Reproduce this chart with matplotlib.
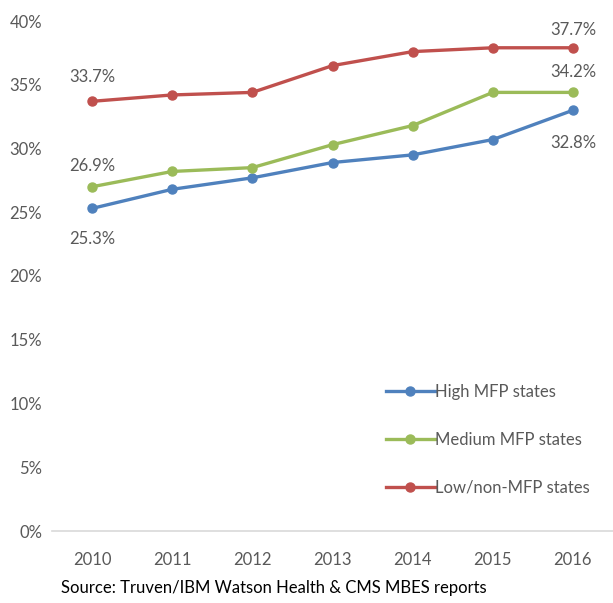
import numpy as np
import matplotlib.pyplot as plt

plt.rcParams['font.family'] = ['Lato', 'DejaVu Sans']

years = ['2010', '2011', '2012', '2013', '2014', '2015', '2016']
high = [25.3, 26.8, 27.7, 28.9, 29.5, 30.7, 33.0]
medium = [27.0, 28.2, 28.5, 30.3, 31.8, 34.4, 34.4]
low = [33.7, 34.2, 34.4, 36.5, 37.6, 37.9, 37.9]

high_labels = ['25.3%', '32.8%']
medium_labels = ['26.9%', '34.2%']
low_labels = ['33.7%', '37.7%']

grey = '#595959'
x = np.arange(len(years))

fig = plt.figure(figsize=(6.13, 6.03), dpi=100)
ax = fig.add_axes([52/613, 1-531/603, 1-52/613, 510/603])

ax.plot(x, high, color='#4F81BD', lw=2.4, marker='o', ms=6.5, label='High MFP states')
ax.plot(x, medium, color='#9BBB59', lw=2.4, marker='o', ms=6.5, label='Medium MFP states')
ax.plot(x, low, color='#C0504D', lw=2.4, marker='o', ms=6.5, label='Low/non-MFP states')

# data labels at first and last points
fs = 12
ax.annotate(low_labels[0], (x[0], low[0]), xytext=(0, 12), textcoords='offset points',
            ha='center', va='bottom', color=grey, fontsize=fs)
ax.annotate(medium_labels[0], (x[0], medium[0]), xytext=(0, 9), textcoords='offset points',
            ha='center', va='bottom', color=grey, fontsize=fs)
ax.annotate(high_labels[0], (x[0], high[0]), xytext=(0, -16), textcoords='offset points',
            ha='center', va='top', color=grey, fontsize=fs)
ax.annotate(low_labels[1], (x[-1], low[-1]), xytext=(0, 7), textcoords='offset points',
            ha='center', va='bottom', color=grey, fontsize=fs)
ax.annotate(medium_labels[1], (x[-1], medium[-1]), xytext=(0, 9), textcoords='offset points',
            ha='center', va='bottom', color=grey, fontsize=fs)
ax.annotate(high_labels[1], (x[-1], high[-1]), xytext=(0, -18), textcoords='offset points',
            ha='center', va='top', color=grey, fontsize=fs)

ax.set_xlim(-0.5, 6.5)
ax.set_ylim(0, 40)
ax.set_yticks(np.arange(0, 41, 5))
ax.set_yticklabels([f'{v}%' for v in range(0, 41, 5)])
ax.set_xticks(x)
ax.set_xticklabels(years)
ax.tick_params(axis='both', length=0, colors=grey, labelsize=fs)
ax.tick_params(axis='y', pad=7)
ax.tick_params(axis='x', pad=15)

for s in ['top', 'right', 'left']:
    ax.spines[s].set_visible(False)
ax.spines['bottom'].set_color('#D9D9D9')
ax.spines['bottom'].set_linewidth(1.2)

leg = ax.legend(loc='lower right', bbox_to_anchor=(0.986, 0.04), frameon=False,
                fontsize=fs, labelspacing=1.9, handlelength=2.9, handletextpad=0.05,
                labelcolor=grey)

fig.text(274/613, 1-588/603, 'Source: Truven/IBM Watson Health & CMS MBES reports',
         fontsize=12, color='black', ha='center', va='center')

fig.savefig('out.png', dpi=100)
